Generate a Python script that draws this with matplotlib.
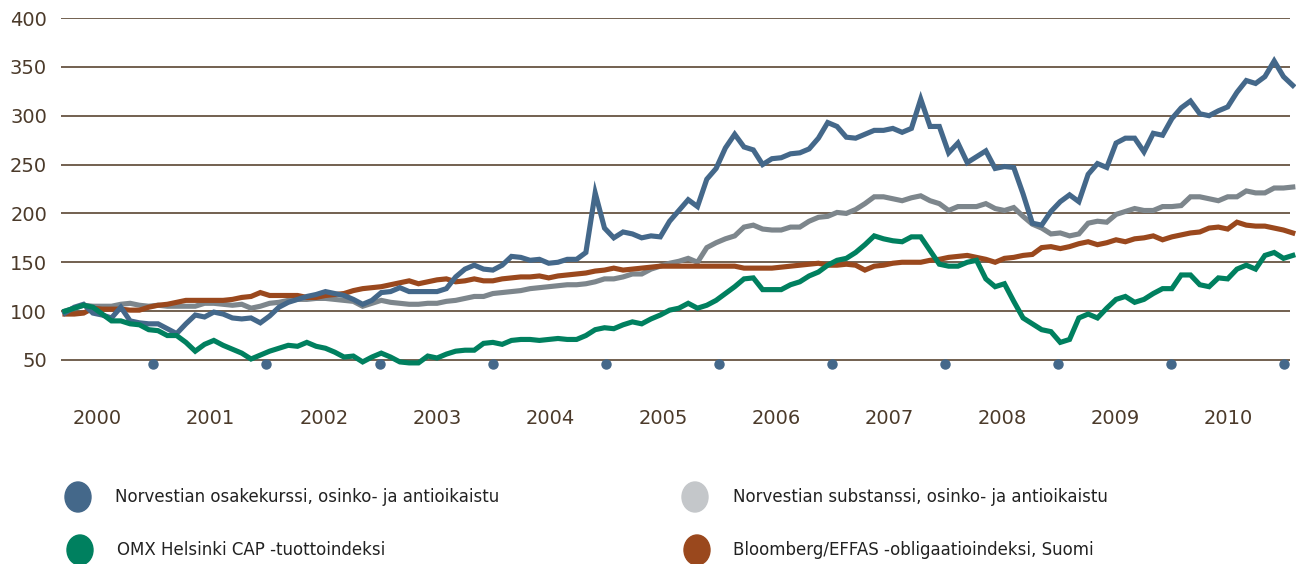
import numpy as np
import matplotlib
matplotlib.use("Agg")
import matplotlib.pyplot as plt
from matplotlib.patches import Ellipse

plt.rcParams['font.family'] = ['DejaVu Sans']

# monthly index values, Dec 1999 = 100
years = ['2000', '2001', '2002', '2003', '2004', '2005', '2006', '2007', '2008', '2009', '2010']

norvestian_share = [
    98, 104, 107, 98, 96, 93, 104, 90, 88, 87, 87, 82, 77, 87, 96, 94, 99, 97, 93, 92, 93, 88,
    95, 104, 109, 112, 115, 117, 120, 118, 116, 112, 107, 111, 119, 120, 124, 120, 120, 120, 120, 123, 135,
    143, 147, 143, 142, 147, 156, 155, 152, 153, 149, 150, 153, 153, 160, 221, 185, 175, 181, 179, 175, 177,
    176, 192, 203, 214, 207, 235, 246, 267, 281, 268, 265, 250, 256, 257, 261, 262, 266, 277, 293, 289, 278,
    277, 281, 285, 285, 287, 283, 287,
    317, 289, 289, 262, 272, 252, 258, 264, 246, 248, 247, 220, 190, 188, 202, 212, 219, 212, 240, 251, 247,
    272, 277, 277, 263, 282, 280, 297, 308, 315, 302, 300, 305, 309, 324, 336, 333, 340, 356, 340, 331,
]

norvestian_nav = [
    100, 103, 106, 105, 105, 105, 107, 108, 106, 105, 106, 105, 105, 105, 105, 108, 108, 107, 106, 107, 103, 105,
    108, 109, 111, 112, 112, 113, 113, 112, 111, 110, 105, 108, 111, 109, 108, 107, 107, 108, 108, 110, 111,
    113, 115, 115, 118, 119, 120, 121, 123, 124, 125, 126, 127, 127, 128, 130, 133, 133, 135, 138, 138,
    143, 146, 149, 151, 154, 150, 165, 170, 174, 177, 186, 188, 184, 183, 183, 186, 186, 192, 196, 197, 201, 200,
    204, 210, 217, 217, 215, 213, 216, 218, 213, 210, 203, 207, 207, 207, 210, 205, 203, 206, 197, 189,
    185, 179, 180, 177, 179, 190, 192, 191, 199, 202, 205, 203, 203, 207, 207, 208, 217, 217, 215, 213,
    217, 217, 223, 221, 221, 226, 226, 227,
]

omx_cap = [
    100, 103, 106, 104, 97, 90, 90, 87, 86, 81, 80, 75, 75, 68, 59, 66, 70, 65, 61, 57, 51, 55,
    59, 62, 65, 64, 68, 64, 62, 58, 53, 54, 48, 53, 57, 53, 48, 47, 47, 54, 52, 56, 59,
    60, 60, 67, 68, 66, 70, 71, 71, 70, 71, 72, 71, 71, 75, 81, 83, 82, 86, 89, 87, 92,
    96, 101, 103, 108, 103, 106, 111, 118, 125, 133, 134, 122, 122, 122, 127, 130, 136, 140, 147, 152, 154,
    160, 168, 177, 174, 172, 171, 176, 176, 162, 148, 146, 146, 150, 152, 133, 125, 128,
    110, 93, 87, 81, 79, 68, 71, 93, 97, 93, 103, 112, 115, 109, 112, 118, 123, 123, 137, 137, 127, 125,
    134, 133, 143, 147, 143, 157, 160, 154, 157,
]

bloomberg_effas = [
    97, 97, 98, 103, 102, 102, 102, 101, 101, 104, 106, 107, 109, 111, 111, 111, 111, 111, 112, 114, 115, 119,
    116, 116, 116, 116, 114, 114, 116, 117, 118, 121, 123, 124, 125, 127, 129, 131, 128, 130, 132, 133, 130,
    131, 133, 131, 131, 133, 134, 135, 135, 136, 134, 136, 137, 138, 139, 141, 142, 144, 142, 143, 144, 145,
    146, 146, 146, 146, 146, 146, 146, 146, 146, 144, 144, 144, 144, 145, 146, 147, 148, 149, 147, 147, 148,
    147, 142, 146, 147, 149, 150, 150,
    150, 152, 153, 155, 156, 157, 155, 153, 150, 154, 155, 157, 158, 165, 166, 164,
    166, 169, 171, 168, 170, 173, 171, 174, 175, 177, 173, 176, 178, 180, 181, 185, 186, 184, 191, 188,
    187, 187, 185, 183, 180,
]

labels = [
    'Norvestian osakekurssi, osinko- ja antioikaistu',
    'Norvestian substanssi, osinko- ja antioikaistu',
    'OMX Helsinki CAP -tuottoindeksi',
    'Bloomberg/EFFAS -obligaatioindeksi, Suomi',
]

c_blue = '#44688a'
c_grey = '#7d868c'
c_green = '#00805f'
c_brown = '#9a481d'
c_grid = '#4b3621'
c_text = '#4b3a2a'

fig = plt.figure(figsize=(12.96, 5.64), dpi=100)
ax = fig.add_axes([61 / 1296, 1 - 380 / 564, (1290 - 61) / 1296, (380 - 18) / 564])

months = np.arange(len(norvestian_share))
ax.plot(months, norvestian_nav, color=c_grey, lw=3.7, clip_on=False, zorder=3, solid_joinstyle='miter')
ax.plot(months, bloomberg_effas, color=c_brown, lw=3.7, clip_on=False, zorder=4, solid_joinstyle='miter')
ax.plot(months, norvestian_share, color=c_blue, lw=3.7, clip_on=False, zorder=5, solid_joinstyle='miter')
ax.plot(months, omx_cap, color=c_green, lw=3.7, clip_on=False, zorder=6, solid_joinstyle='miter')

ax.set_xlim(-0.43, 131.7)
ax.set_ylim(29.5, 400)

# gridlines
for v in range(50, 401, 50):
    ax.axhline(v, color=c_grid, lw=1.1, zorder=1)

yt = list(range(50, 401, 50))
ax.set_yticks(yt)
ax.set_yticklabels([str(v) for v in yt], fontsize=14, color=c_text)

label_pos = np.arange(len(years)) * 12.16 + 3.5
ax.set_xticks(label_pos)
ax.set_xticklabels(years, fontsize=14, color=c_text)
ax.tick_params(axis='both', length=0)
ax.tick_params(axis='y', pad=10)
ax.tick_params(axis='x', pad=21)

# small year marker dots
ax.plot(label_pos + 6, [46] * len(years), 'o', color=c_blue, ms=6.5, clip_on=False, zorder=2)

for s in ax.spines.values():
    s.set_visible(False)

# legend
leg = [
    (0.78, (564 - 497) / 100, c_blue, labels[0], 1.15),
    (6.95, (564 - 497) / 100, '#c4c7ca', labels[1], 7.33),
    (0.80, (564 - 550) / 100, c_green, labels[2], 1.17),
    (6.97, (564 - 550) / 100, c_brown, labels[3], 7.33),
]
for cx, cy, col, txt, tx in leg:
    fig.add_artist(Ellipse((cx, cy), 0.26, 0.30, color=col, transform=fig.dpi_scale_trans))
    fig.text(tx / 12.96, cy / 5.64, txt, fontsize=12, color='#222222', va='center', ha='left')

fig.savefig('out.png', dpi=100)
